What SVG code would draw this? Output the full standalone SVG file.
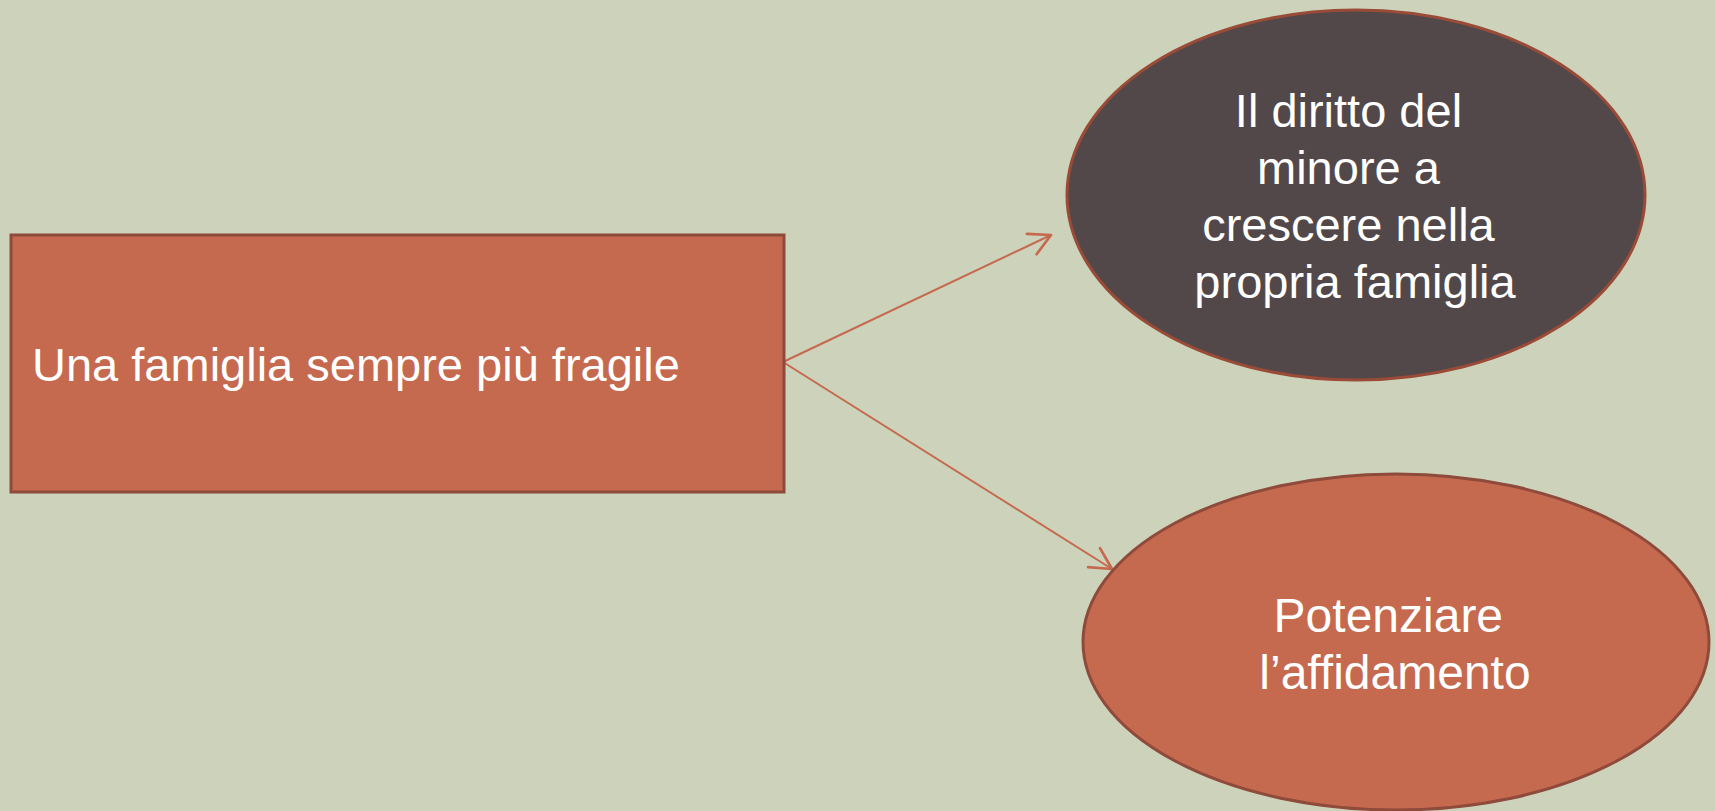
<svg xmlns="http://www.w3.org/2000/svg" width="1715" height="811" viewBox="0 0 1715 811">
  <style>
    .lbl { font-family: "Liberation Sans", Arial, sans-serif; fill: #ffffff; }
    .conn { stroke: #C5694F; stroke-width: 2; fill: none; }
  </style>
  <defs>
    <marker id="open" markerUnits="userSpaceOnUse" markerWidth="30" markerHeight="30" refX="0" refY="0" viewBox="-20 -12 22 24" orient="auto" overflow="visible">
      <path d="M-17,-9 L0,0 L-17,9" fill="none" stroke="#C5694F" stroke-width="2.2" stroke-linecap="round" stroke-linejoin="round"/>
    </marker>
  </defs>
  <rect x="0" y="0" width="1715" height="811" fill="#CDD3BA"/>

  <g id="connectors">
    <line class="conn" x1="783" y1="362" x2="1051" y2="235" marker-end="url(#open)"/>
    <line class="conn" x1="783" y1="362" x2="1112" y2="569" marker-end="url(#open)"/>
  </g>

  <g id="node-famiglia">
    <rect x="11" y="235" width="773" height="257" fill="#C5694F" stroke="#8E4A3A" stroke-width="3"/>
    <text class="lbl" x="32" y="381" font-size="47">Una famiglia sempre più fragile</text>
  </g>

  <g id="node-diritto">
    <ellipse cx="1356" cy="195" rx="289" ry="185" fill="#524849" stroke="#9A4B38" stroke-width="3"/>
    <text class="lbl" font-size="47" text-anchor="middle">
      <tspan x="1355" y="127">Il diritto del</tspan>
      <tspan x="1355" y="184">minore a</tspan>
      <tspan x="1355" y="241">crescere nella</tspan>
      <tspan x="1355" y="298">propria famiglia</tspan>
    </text>
  </g>

  <g id="node-affidamento">
    <ellipse cx="1396" cy="642" rx="313" ry="168" fill="#C5694F" stroke="#8E4A3A" stroke-width="3"/>
    <text class="lbl" font-size="48" text-anchor="middle">
      <tspan x="1395" y="632">Potenziare</tspan>
      <tspan x="1395" y="689">l’affidamento</tspan>
    </text>
  </g>
</svg>
